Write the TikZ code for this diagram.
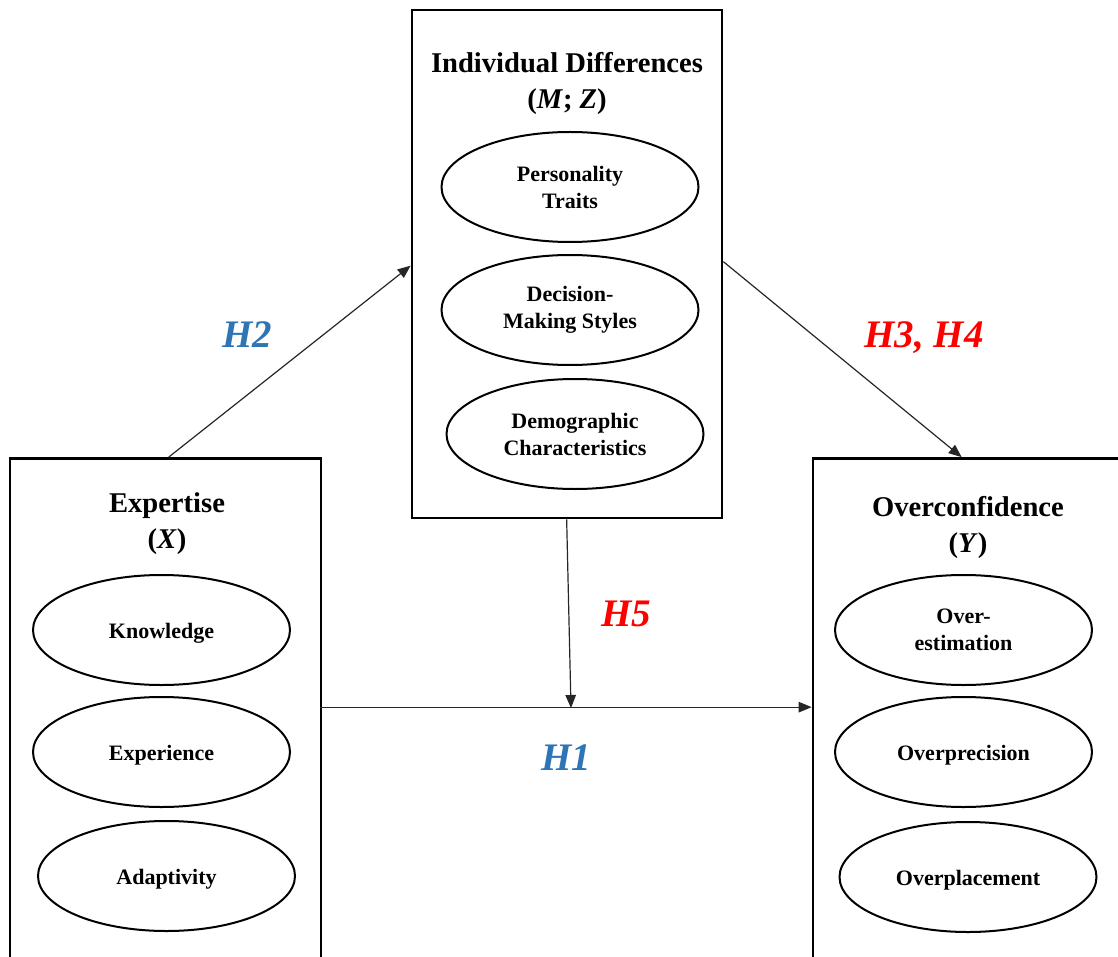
\documentclass[tikz,border=0pt]{standalone}
\usepackage{fontspec}
\setmainfont{Liberation Serif}
\usetikzlibrary{arrows.meta,shapes.geometric,calc}
\definecolor{hblue}{HTML}{2E75B6}
\definecolor{hred}{HTML}{FF0000}
\begin{document}
\begin{tikzpicture}[x=1pt,y=-1pt,
  panel/.style={draw=black,line width=2.7pt,rectangle,inner sep=0pt},
  titletext/.style={inner sep=0pt,align=center,font=\bfseries\fontsize{28.6}{36}\selectfont},
  factor/.style={draw=black,line width=2pt,ellipse,inner sep=0pt,
    minimum width=257pt,minimum height=110pt,align=center,
    font=\bfseries\fontsize{22}{27}\selectfont},
  oneline/.style={text height=17pt,text depth=0pt},
  conn/.style={draw=black!85,line width=1.2pt,-{Triangle[length=13pt,width=10.5pt]}},
  hyp/.style={inner sep=0pt,anchor=base,font=\bfseries\itshape\fontsize{39}{44}\selectfont},
]
\useasboundingbox (0,0) rectangle (1118,957);
\clip (0,0) rectangle (1118,957);

% construct panels
\node[panel,minimum width=310pt,minimum height=508pt] (mbox) at (567,264) {};
\node[panel,minimum width=311pt,minimum height=560pt] (lbox) at (165.5,738.5) {};
\node[panel,minimum width=340pt,minimum height=560pt] (rbox) at (983,738.5) {};

% panel titles
\node[titletext] (mtitle) at (567,83) {Individual Differences\\(\textit{M}; \textit{Z})};
\node[titletext] (ltitle) at (167,523.5) {Expertise\\(\textit{X})};
\node[titletext] (rtitle) at (968,527.5) {Overconfidence\\(\textit{Y})};

% mediator dimensions
\node[factor] (pers) at (570,187) {Personality\\Traits};
\node[factor] (dec)  at (570,310) {Decision-\\Making Styles};
\node[factor] (demo) at (575,434) {Demographic\\Characteristics};

% expertise dimensions
\node[factor,oneline] (know) at (161.5,630) {Knowledge};
\node[factor,oneline] (expe) at (161.5,752) {Experience};
\node[factor,oneline] (adap) at (166.5,876) {Adaptivity};

% overconfidence dimensions
\node[factor] (oest) at (963.5,630) {Over-\\estimation};
\node[factor,oneline] (oprc) at (963.5,752) {Overprecision};
\node[factor,oneline] (opl)  at (968,877) {Overplacement};

% paths
\coordinate (jn) at (571,708);
\draw[conn] ($(lbox.north west)+(160,0)$) -- ($(mbox.north west)+(0,257)$);
\draw[conn] ($(mbox.north east)+(0,253)$) -- ($(rbox.north west)+(150,0)$);
\draw[conn] ($(lbox.north west)+(311,250)$) -- ($(rbox.north west)+(0,250)$);
\draw[conn] ($(mbox.south west)+(156,0)$) -- (jn);

% hypothesis labels
\node[hyp,text=hblue] (h2) at (247,347) {H2};
\node[hyp,text=hred] (h34) at (924,347) {H3, H4};
\node[hyp,text=hred] (h5) at (626,626) {H5};
\node[hyp,text=hblue] (h1) at (566,770) {H1};
\end{tikzpicture}
\end{document}
